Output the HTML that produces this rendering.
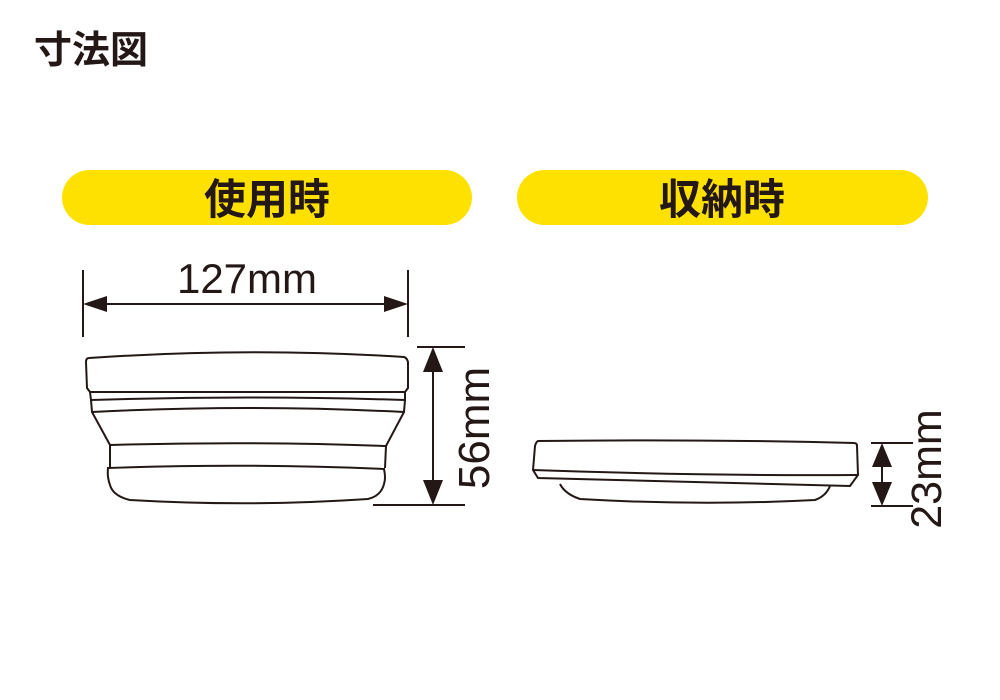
<!DOCTYPE html>
<html><head><meta charset="utf-8"><style>
html,body{margin:0;padding:0;background:#fff;}
svg{display:block}
</style></head><body>
<svg width="1000" height="700" viewBox="0 0 1000 700" xmlns="http://www.w3.org/2000/svg">
<text x="34" y="63" font-family="'Noto Sans CJK JP',sans-serif" font-size="38" font-weight="700" fill="#231815">寸法図</text>
<rect x="62" y="170" width="410" height="55" rx="27.5" fill="#FFE100"/>
<rect x="517" y="170" width="411" height="55" rx="27.5" fill="#FFE100"/>
<text x="267" y="214" text-anchor="middle" font-family="'Noto Sans CJK JP',sans-serif" font-size="42" font-weight="700" fill="#231815">使用時</text>
<text x="722" y="214" text-anchor="middle" font-family="'Noto Sans CJK JP',sans-serif" font-size="42" font-weight="700" fill="#231815">収納時</text>

<g stroke="#231815" stroke-width="2" fill="none">
<line x1="83" y1="270" x2="83" y2="337"/>
<line x1="408" y1="270" x2="408" y2="337"/>
<line x1="100" y1="304" x2="391" y2="304"/>
<line x1="417" y1="347" x2="465" y2="347"/>
<line x1="373" y1="505" x2="465" y2="505"/>
<line x1="433" y1="365" x2="433" y2="487"/>
<line x1="871" y1="443" x2="913" y2="443"/>
<line x1="871" y1="506" x2="913" y2="506"/>
<line x1="882" y1="460" x2="882" y2="490"/>

<path d="M89,358 Q86,358 86,362 L87,388 L90,392 L405,392 L408,388 L408,362 Q407,358 404,357 Q250,347 89,358 Z"/>
<path d="M90,392 L91,400 Q250,395 405,400 L405,392"/>
<path d="M91,400 L92,412 Q250,404 404,412 L405,400"/>
<path d="M92,412 L110,445 Q250,441 386,446 L404,412"/>
<path d="M110,445 L110,468 M386,446 L385,468"/>
<path d="M108,468 Q250,463 384,469 Q386,478 384,484 Q381,496 368,499 Q250,507 130,500 Q113,496 110,485 Q107,477 108,468 Z"/>

<path d="M538,441 Q536,442 535,446 L533,470 L538,478 L850,486 L858,475 L857,446 Q857,443 854,443 Q700,439 538,441 Z"/>
<path d="M533,470 Q700,476 858,475"/>
<path d="M560,484 Q565,494 580,499 Q700,506 815,500 Q826,496 830,486"/>
</g>
<g fill="#231815">
<polygon points="83,304 107,296 107,312"/>
<polygon points="408,304 384,296 384,312"/>
<polygon points="433,347 423,372 443,372"/>
<polygon points="433,505 423,480 443,480"/>
<polygon points="882,443 872,467 892,467"/>
<polygon points="882,506 872,482 892,482"/>
</g>
<g font-family="'Liberation Sans',sans-serif" fill="#231815">
<text x="247" y="293" text-anchor="middle" font-size="42">127mm</text>
<text transform="translate(489,428) rotate(-90)" text-anchor="middle" font-size="44">56mm</text>
<text transform="translate(941,469) rotate(-90)" text-anchor="middle" font-size="43">23mm</text>
</g>
</svg>
</body></html>
